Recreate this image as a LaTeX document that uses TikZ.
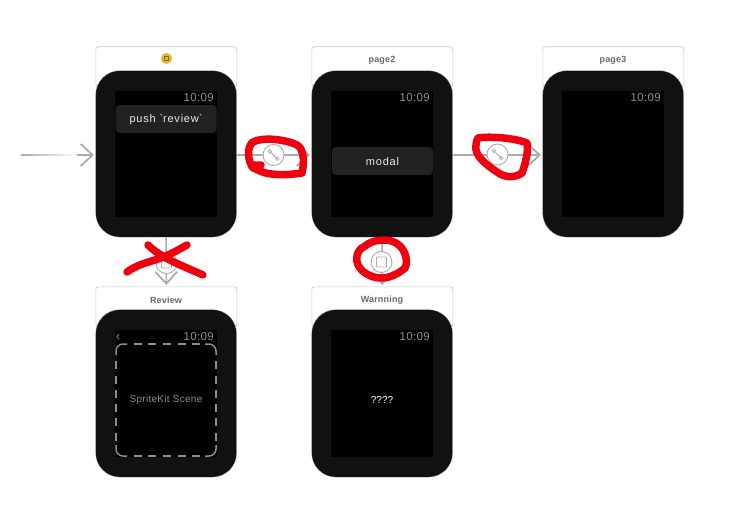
\documentclass[tikz,border=0pt]{standalone}
\usepackage{fontspec}
\setmainfont{Liberation Sans}
\usetikzlibrary{arrows.meta,fadings}
\definecolor{bodyc}{HTML}{111111}
\definecolor{btnc}{HTML}{222222}
\definecolor{framec}{HTML}{C8C8C8}
\definecolor{edgec}{HTML}{ABABAB}
\definecolor{timec}{HTML}{8E8E8E}
\definecolor{titlec}{HTML}{6A6A6A}
\definecolor{scribble}{HTML}{F0000F}
\definecolor{badge}{HTML}{E8B820}
\tikzset{
  headbox/.style={draw=framec,line width=.7pt,fill=white,rounded corners=2.5pt,minimum width=141pt,minimum height=40pt,anchor=north west,inner sep=0pt},
  watchbody/.style={draw=framec,line width=.3pt,fill=bodyc,rounded corners=24pt,minimum width=141pt,anchor=north west,inner sep=0pt},
  screenbox/.style={fill=black,minimum width=102pt,anchor=north west,inner sep=0pt},
  titletext/.style={text=titlec,font=\fontsize{9}{10}\selectfont\bfseries\addfontfeature{LetterSpace=2},inner sep=0pt},
  timetext/.style={text=timec,font=\fontsize{11.5}{12}\selectfont\addfontfeature{LetterSpace=3},anchor=east,inner sep=0pt},
  btn/.style={fill=btnc,rounded corners=4pt,minimum width=101pt,minimum height=28pt,text=white!92!black,inner sep=0pt},
  btnlabel/.style={text=white!92!black,font=\fontsize{11}{12}\selectfont\addfontfeature{LetterSpace=7},inner sep=0pt},
  segueend/.style={draw=edgec,line width=1.5pt,shorten >=1.5pt,-{Straight Barb[length=12pt,width=22pt,line width=1.8pt]}},
  seguedot/.style={circle,draw=edgec,line width=.9pt,fill=white,minimum size=21pt,inner sep=0pt},
  redmark/.style={draw=scribble,line width=7.5pt,line cap=round,line join=round},
  scenecorner/.style={draw=timec,line width=1.5pt,rounded corners=7pt},
  sceneside/.style={draw=timec,line width=1.5pt},
}
\newcommand{\watch}[5]{%
  % name, x, head y, body y, body height
  \node[headbox] (#1h) at (#2,#3) {};
  \node[watchbody,minimum height=#5pt] (#1) at (#2,#4) {};
}
\begin{document}
\begin{tikzpicture}[x=1pt,y=-1pt]
\useasboundingbox (0,0) rectangle (742,527);
\fill[white] (0,0) rectangle (742,527);

\watch{wa}{95.5}{46.5}{70.5}{166.5}
\watch{wb}{311.5}{46.5}{70.5}{166.5}
\watch{wc}{542.5}{46.5}{70.5}{166.5}
\watch{wd}{95.5}{286.5}{309.5}{167.5}
\watch{we}{311.5}{286.5}{309.5}{167.5}

% screens
\node[screenbox,minimum height=126pt] (sa) at (115,91) {};
\node[screenbox,minimum height=126pt] (sb) at (331,91) {};
\node[screenbox,minimum height=126pt] (sc) at (562,91) {};
\node[screenbox,minimum height=127pt] (sd) at (115,330) {};
\node[screenbox,minimum height=127pt] (se) at (331,330) {};

% titles
\node[circle,fill=badge,minimum size=11pt,inner sep=0pt] (ba) at (166.5,58.5) {};
\node[draw=badge!55!black,line width=.4pt,minimum size=4pt,inner sep=0pt] (bb) at (ba) {};
\node[titletext] (tb) at (382,60.5) {page2};
\node[titletext] (tc) at (613,60.5) {page3};
\node[titletext] (td) at (166,300) {Review};
\node[titletext] (te) at (382,300) {Warnning};

% times
\node[timetext] (ta) at (214,97.5) {10:09};
\node[timetext] (tbb) at (430,97.5) {10:09};
\node[timetext] (tcc) at (661,97.5) {10:09};
\node[timetext] (tdd) at (214,336.5) {10:09};
\node[timetext] (tee) at (430,336.5) {10:09};

% contents
\node[btn] (push) at (166,119) {};
\node[btnlabel] (pusht) at (166,120) {push \textasciigrave review\textasciigrave};
\node[btn] (modal) at (382.5,161) {};
\node[btnlabel] (modalt) at (382.5,162) {modal};

% dashed scene outline: solid corners, evenly dashed sides
\draw[scenecorner] (116,355) -- (116,344) -- (127,344);
\draw[scenecorner] (205,344) -- (216,344) -- (216,355);
\draw[scenecorner] (216,445) -- (216,456) -- (205,456);
\draw[scenecorner] (127,456) -- (116,456) -- (116,445);
\draw[sceneside,dash pattern=on 8pt off 6.67pt,dash phase=8pt] (127,344) -- (205,344);
\draw[sceneside,dash pattern=on 8pt off 6.67pt,dash phase=8pt] (127,456) -- (205,456);
\draw[sceneside,dash pattern=on 8pt off 6.29pt,dash phase=8pt] (116,355) -- (116,445);
\draw[sceneside,dash pattern=on 8pt off 6.29pt,dash phase=8pt] (216,355) -- (216,445);
\node[text=timec,font=\fontsize{10}{12}\selectfont\addfontfeature{LetterSpace=3},inner sep=0pt] (scenet) at (166,400) {SpriteKit Scene};
\node[text=white,font=\fontsize{10}{12}\selectfont,inner sep=0pt] (q) at (382,400) {????};
\node[text=timec,font=\fontsize{13}{12}\selectfont,inner sep=0pt] (back) at (118,337.5) {‹};

% entry arrow
\coordinate (entry) at (93,155);
\fill[edgec,path fading=east] (21,154.2) rectangle (78,155.8);
\draw[segueend] (77,155) -- (wa.west |- entry);

% segues
\coordinate (ab) at (0,155);
\draw[segueend] (wa.east |- ab) -- (wb.west |- ab);
\draw[segueend] (wb.east |- ab) -- (wc.west |- ab);
\draw[segueend] (wa.south) -- (wdh.north);
\draw[segueend] (wb.south) -- (weh.north);

\node[seguedot] (c1) at (273.5,155) {};
\node[seguedot] (c2) at (497.5,154.5) {};
\node[seguedot] (c3) at (166.5,263) {};
\node[seguedot] (c4) at (381.5,262) {};
\foreach \c in {c1,c2}{
  \draw[edgec,line width=.9pt] ([shift={(-3.5,-3.5)}]\c.center) -- ([shift={(3.5,3.5)}]\c.center);
  \draw[edgec,line width=.8pt,fill=white] ([shift={(-3.7,-3.7)}]\c.center) circle (1.6pt);
  \draw[edgec,line width=.8pt,fill=white] ([shift={(3.7,3.7)}]\c.center) circle (1.6pt);
}
\foreach \c in {c3,c4}{
  \draw[edgec,line width=.9pt,rounded corners=.6pt] ([shift={(-5,-5)}]\c.center) rectangle ([shift={(5,5)}]\c.center);
}

% red scribbles
\draw[redmark] (253,168) .. controls (247,160) and (247,146) .. (253,142)
  .. controls (262,137) and (285,139) .. (297,145)
  .. controls (303,148) and (305,160) .. (302,173)
  .. controls (290,175) and (270,176) .. (260,171)
  .. controls (256,169) and (252,168) .. (251,165) -- (261,165);
\draw[redmark] (358,265) .. controls (354,255) and (360,248) .. (365,246)
  .. controls (372,240) and (390,236) .. (400,246)
  .. controls (406,252) and (408,262) .. (405,268)
  .. controls (398,274) and (390,278) .. (381,278)
  .. controls (372,278) and (362,273) .. (358,265);
\draw[redmark] (478,138) .. controls (490,136) and (515,138) .. (527,143)
  .. controls (529,150) and (525,165) .. (522,173)
  .. controls (515,178) and (505,178) .. (497,172)
  .. controls (485,164) and (474,155) .. (476,145)
  .. controls (476,142) and (477,140) .. (478,138);
\draw[redmark] (148,245) .. controls (155,252) and (165,258) .. (178,264) -- (203,275);
\draw[redmark] (187,245) .. controls (178,250) and (168,256) .. (155,260)
  .. controls (145,263) and (135,266) .. (127,272);
\end{tikzpicture}
\end{document}
